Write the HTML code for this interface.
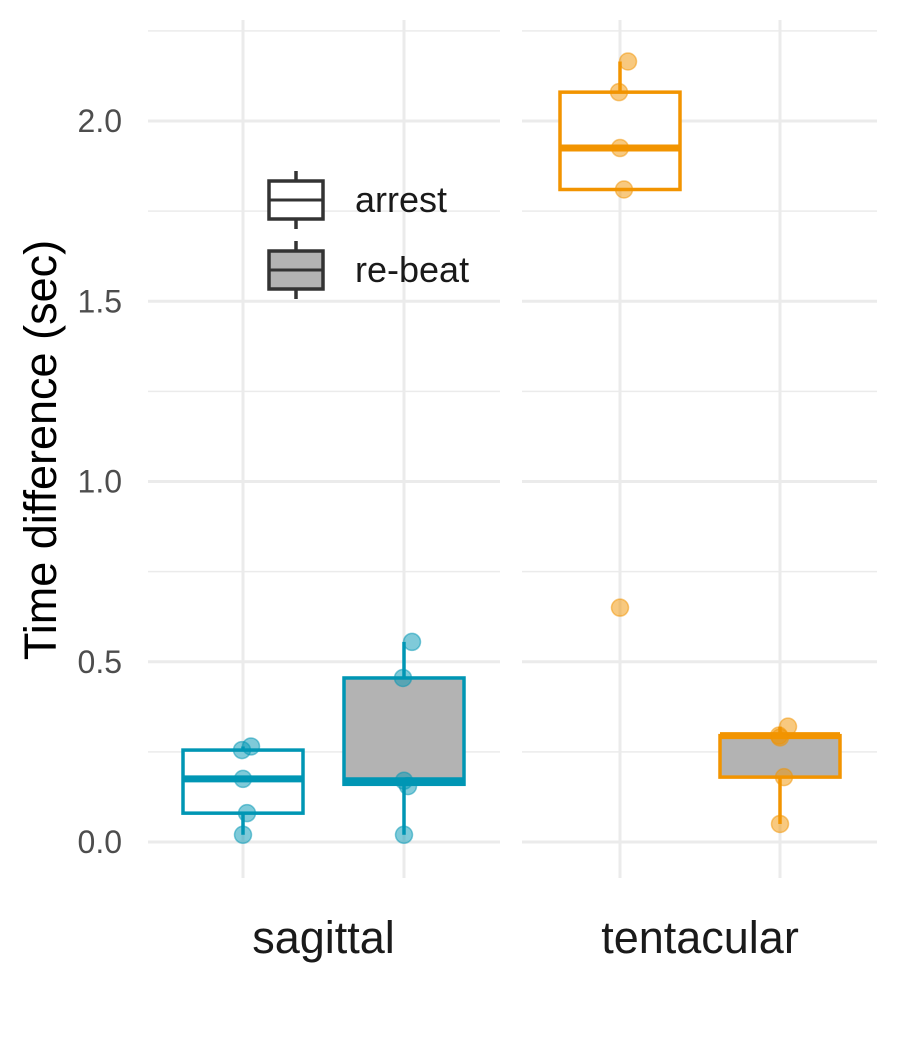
<!DOCTYPE html>
<html><head><meta charset="utf-8"><style>
body{margin:0;background:#fff}
svg{display:block;font-family:"Liberation Sans",Arial,sans-serif}
</style></head><body>
<svg id="chart" width="900" height="1050" viewBox="0 0 900 1050"></svg>
<script>
const panels = ["sagittal","tentacular"];
const groups = ["arrest","re-beat"];
const colors = {sagittal:"#0096b4", tentacular:"#f29400"};
// stats: [lowerWhisker, q1, median, q3, upperWhisker]
const statsSagArrest = [0.02, 0.08, 0.175, 0.255, 0.265];
const statsSagRebeat = [0.02, 0.16, 0.17, 0.455, 0.555];
const statsTenArrest = [1.81, 1.81, 1.925, 2.08, 2.165];
const statsTenRebeat = [0.05, 0.18, 0.295, 0.295, 0.32];
const ptsSagArrest = [0.02, 0.08, 0.175, 0.255, 0.265];
const ptsSagRebeat = [0.02, 0.155, 0.17, 0.455, 0.555];
const ptsTenArrest = [0.65, 1.81, 1.925, 2.08, 2.165];
const ptsTenRebeat = [0.05, 0.18, 0.29, 0.295, 0.32];
const jitter = [0, 4, 0, -1, 8];
const yTicks = [0, 0.5, 1.0, 1.5, 2.0];
const yTickLabels = ["0.0","0.5","1.0","1.5","2.0"];
const yMinor = [0.25, 0.75, 1.25, 1.75, 2.25];

const svg = document.getElementById('chart');
const NS = "http://www.w3.org/2000/svg";
function el(tag, attrs, parent){const e=document.createElementNS(NS,tag);for(const k in attrs)e.setAttribute(k,attrs[k]);(parent||svg).appendChild(e);return e;}
const y = v => 842 - v*360.5;
const panelX = [[148,500],[522,877]];
const groupX = [[243,404],[620,780]];

panelX.forEach((p,pi)=>{
  yMinor.forEach(v=>{const l=el('line',{x1:p[0],x2:p[1],y1:y(v),y2:y(v),stroke:"#ebebeb","stroke-width":1.5});
  
  });
  yTicks.forEach(v=>{const l=el('line',{x1:p[0],x2:p[1],y1:y(v),y2:y(v),stroke:"#ebebeb","stroke-width":3});
  
  });
  groupX[pi].forEach(x=>{const l=el('line',{x1:x,x2:x,y1:20,y2:878,stroke:"#ebebeb","stroke-width":3});
  
  });
});
yTicks.forEach((v,i)=>{const t=el('text',{x:122,y:y(v)+11,"text-anchor":"end","font-size":32,fill:"#4d4d4d"});t.textContent=yTickLabels[i];

});

const stats=[[statsSagArrest,statsSagRebeat],[statsTenArrest,statsTenRebeat]];
const pts=[[ptsSagArrest,ptsSagRebeat],[ptsTenArrest,ptsTenRebeat]];
panels.forEach((p,pi)=>{
  const c=colors[p];
  groups.forEach((g,gi)=>{
    const s=stats[pi][gi], cx=groupX[pi][gi], hw=60;
    const grp=el('g',{});
    
    
    el('line',{x1:cx,x2:cx,y1:y(s[0]),y2:y(s[1]),stroke:c,"stroke-width":3.5},grp);
    el('line',{x1:cx,x2:cx,y1:y(s[3]),y2:y(s[4]),stroke:c,"stroke-width":3.5},grp);
    el('rect',{x:cx-hw,y:y(s[3]),width:2*hw,height:y(s[1])-y(s[3]),fill:gi?"#b3b3b3":"#fff",stroke:c,"stroke-width":3.5},grp);
    el('line',{x1:cx-hw,x2:cx+hw,y1:y(s[2]),y2:y(s[2]),stroke:c,"stroke-width":7},grp);
    pts[pi][gi].forEach((v,k)=>{const ci=el('circle',{cx:cx+jitter[k],cy:y(v),r:8.5,fill:c,"fill-opacity":0.5,stroke:c,"stroke-opacity":0.5,"stroke-width":1.5});
    
    });
  });
  const t=el('text',{x:(groupX[pi][0]+groupX[pi][1])/2,y:953,"text-anchor":"middle","font-size":45,fill:"#1a1a1a"});t.textContent=p;
  
  
});
const yt=el('text',{transform:"translate(56,450) rotate(-90)","text-anchor":"middle","font-size":45,fill:"#000"});yt.textContent="Time difference (sec)";


groups.forEach((g,gi)=>{
  const cy=200+gi*70;
  const lg=el('g',{});
  
  
  el('line',{x1:296,x2:296,y1:cy-29,y2:cy+29,stroke:"#333","stroke-width":3.5},lg);
  el('rect',{x:269,y:cy-19,width:54,height:38,fill:gi?"#b3b3b3":"#fff",stroke:"#333","stroke-width":3.5},lg);
  el('line',{x1:269,x2:323,y1:cy,y2:cy,stroke:"#333","stroke-width":3},lg);
  const t=el('text',{x:355,y:cy+12,"font-size":36,fill:"#1a1a1a"},lg);t.textContent=g;
});
</script>
</body></html>
